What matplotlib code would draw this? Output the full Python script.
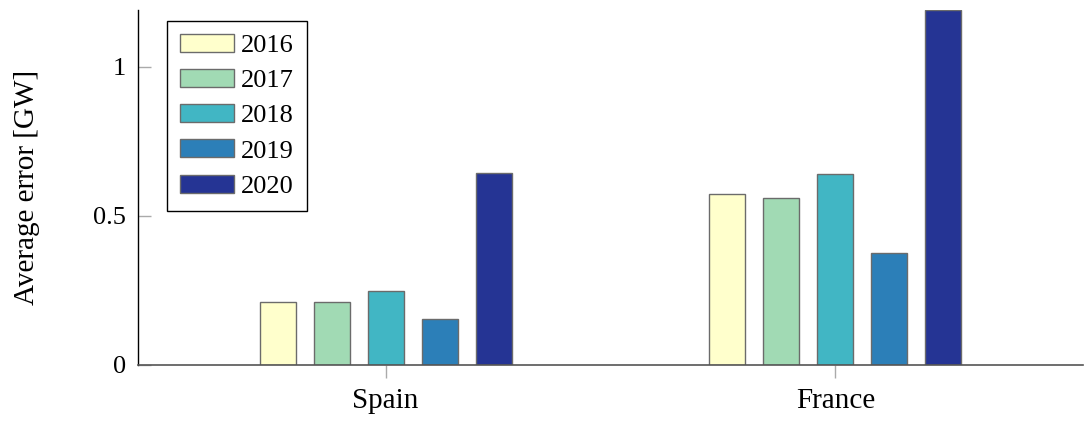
import numpy as np
import matplotlib.pyplot as plt

countries = ['Spain', 'France']
years = ['2016', '2017', '2018', '2019', '2020']
errors = dict()
errors['2016'] = [0.209, 0.572]
errors['2017'] = [0.211, 0.559]
errors['2018'] = [0.248, 0.639]
errors['2019'] = [0.153, 0.376]
errors['2020'] = [0.643, 1.19]
y_ticks = [0, 0.5, 1]
y_ticklabels = ['0', '0.5', '1']

colour_mapper = {'2016': '#ffffcc', '2017': '#a1dab4', '2018': '#41b6c4',
                 '2019': '#2c7fb8', '2020': '#253494'}

plt.rcParams['font.family'] = ['Liberation Serif', 'DejaVu Serif']
plt.rcParams['font.size'] = 19


def main():
    fig = plt.figure(figsize=(10.91, 4.29), dpi=100)
    ax = fig.add_axes([0.1268, 0.1499, 0.8656, 0.8268])

    x = np.arange(len(countries))
    width = 0.08
    step = 0.12
    for i, year in enumerate(years):
        offset = (i - 2) * step
        ax.bar(x + offset, errors[year], width, color=colour_mapper[year],
               edgecolor='#6b6b6b', linewidth=1.0, label=year, zorder=2)

    ax.set_xlim(-0.55, 1.55)
    ax.set_ylim(0, 1.19)
    ax.set_xticks(x)
    ax.set_xticklabels(countries)
    ax.set_yticks(y_ticks)
    ax.set_yticklabels(y_ticklabels)
    ax.set_ylabel('Average error [GW]', fontsize=21)
    ax.yaxis.set_label_coords(-0.104, 0.5)

    for side in ['top', 'right']:
        ax.spines[side].set_visible(False)
    ax.spines['left'].set_color('black')
    ax.spines['bottom'].set_color('#555555')
    ax.spines['left'].set_linewidth(1.0)
    ax.spines['bottom'].set_linewidth(1.2)
    ax.spines['bottom'].set_zorder(3)

    ax.tick_params(axis='y', direction='in', length=9, width=1, color='#aaaaaa', pad=9)
    ax.tick_params(axis='x', direction='out', length=9, width=1, color='#aaaaaa', pad=8,
                   labelsize=21)

    leg = ax.legend(loc='upper left', bbox_to_anchor=(0.153, 0.952),
                    bbox_transform=fig.transFigure, fancybox=False,
                    edgecolor='black', framealpha=1, borderaxespad=0,
                    handlelength=2.05, handleheight=0.68, labelspacing=0.45,
                    handletextpad=0.25, borderpad=0.5)
    leg.get_frame().set_linewidth(1.0)

    plt.savefig('out.png', dpi=100)


if __name__ == "__main__":
    main()
